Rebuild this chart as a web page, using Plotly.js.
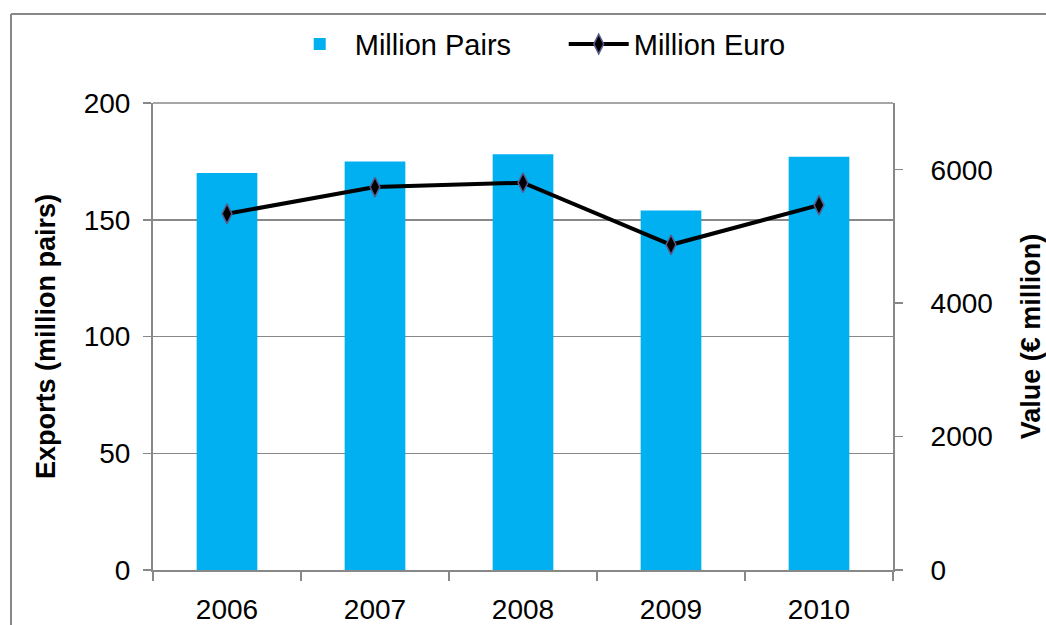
<!DOCTYPE html>
<html>
<head>
<meta charset="utf-8">
<script src="https://cdn.plot.ly/plotly-3.0.1.min.js"></script>
<style>html,body{margin:0;padding:0;background:#fff;}#chart{width:1046px;height:625px;}</style>
</head>
<body>
<div id="chart"></div>
<script>
const years = ['2006', '2007', '2008', '2009', '2010'];
const millionPairs = [170, 175, 178, 154, 177];
const millionEuro = [5340, 5740, 5805, 4875, 5470];
const leftTicks = [0, 50, 100, 150, 200];
const rightTicks = [0, 2000, 4000, 6000];

const FONT = 'Liberation Sans, Arial, sans-serif';
const GRAY = '#888888';

const traces = [
  {
    type: 'bar', name: 'Million Pairs', x: years, y: millionPairs,
    marker: {color: '#00B0F0'}, yaxis: 'y'
  },
  {
    type: 'scatter', mode: 'lines+markers', name: 'Million Euro', x: years, y: millionEuro,
    yaxis: 'y2',
    line: {color: '#000000', width: 4},
    marker: {symbol: 'diamond-tall', size: 14, color: '#000000', line: {color: '#5a5a8c', width: 1.5}}
  }
];

const layout = {
  width: 1046, height: 625,
  margin: {l: 153, r: 153, t: 103, b: 55},
  paper_bgcolor: '#ffffff', plot_bgcolor: '#ffffff',
  font: {family: FONT, size: 28, color: '#000000'},
  bargap: 0.59,
  showlegend: true,
  legend: {
    orientation: 'h', x: 0.178, xanchor: 'left', y: 1.126, yanchor: 'middle',
    font: {family: FONT, size: 29, color: '#000000'},
    bgcolor: 'rgba(0,0,0,0)', itemwidth: 60, traceorder: 'normal',
    entrywidth: 204
  },
  xaxis: {
    type: 'category', tickson: 'boundaries', ticks: 'outside', ticklen: 9, tickwidth: 1.5,
    tickcolor: GRAY, showline: true, linecolor: GRAY, linewidth: 2, showgrid: false,
    tickfont: {family: FONT, size: 28}, ticklabelstandoff: 13, zeroline: false
  },
  yaxis: {
    range: [0, 200], tickvals: leftTicks, ticks: 'outside', ticklen: 8, tickwidth: 1.5,
    tickcolor: GRAY, showline: true, linecolor: GRAY, linewidth: 2,
    showgrid: true, gridcolor: GRAY, gridwidth: 1.5, zeroline: false,
    tickfont: {family: FONT, size: 28}, ticklabelstandoff: 7,
    title: {text: '<b>Exports (million pairs)</b>', font: {family: FONT, size: 27}, standoff: 20}
  },
  yaxis2: {
    range: [0, 7000], tickvals: rightTicks, overlaying: 'y', side: 'right',
    ticks: 'outside', ticklen: 8, tickwidth: 1.5, tickcolor: GRAY,
    showline: true, linecolor: GRAY, linewidth: 2, showgrid: false, zeroline: false,
    tickfont: {family: FONT, size: 28}, ticklabelstandoff: 22,
    title: {text: '<b>Value (€ million)</b>', font: {family: FONT, size: 27}, standoff: 30}
  },
  shapes: [
    {type: 'line', xref: 'paper', yref: 'paper', x0: -0.1919, x1: 1.5, y0: 1.1906, y1: 1.1906,
     line: {color: GRAY, width: 2}},
    {type: 'line', xref: 'paper', yref: 'paper', x0: -0.1919, x1: -0.1919, y0: -0.5, y1: 1.1906,
     line: {color: GRAY, width: 2}},
    {type: 'line', xref: 'paper', yref: 'paper', x0: 0, x1: 1, y0: 1, y1: 1,
     line: {color: GRAY, width: 1.5}}
  ]
};

Plotly.newPlot('chart', traces, layout, {displayModeBar: false, staticPlot: true});
</script>
</body>
</html>
